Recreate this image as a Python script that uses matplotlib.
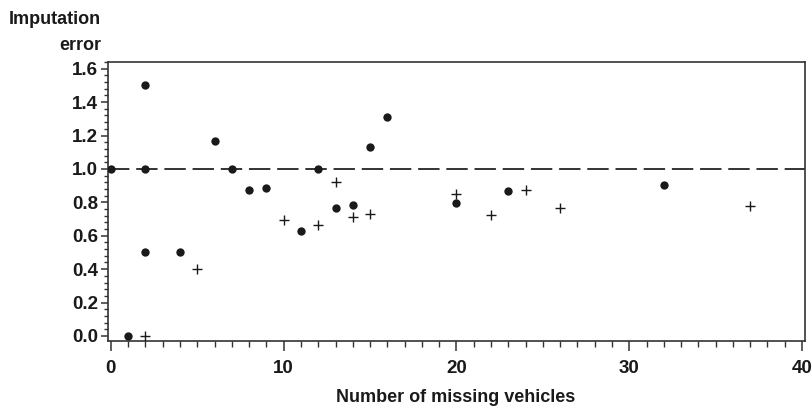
import matplotlib
matplotlib.use("Agg")
import matplotlib.pyplot as plt
from matplotlib.ticker import AutoMinorLocator

# Data
dot_x = [0, 1, 2, 2, 2, 4, 6, 7, 8, 9, 11, 12, 13, 14, 15, 16, 20, 23, 32]
dot_y = [1.0, 0.0, 1.5, 1.0, 0.5, 0.5, 1.167, 1.0, 0.875, 0.888, 0.631, 1.0,
         0.767, 0.783, 1.133, 1.312, 0.797, 0.866, 0.902]

plus_x = [2, 5, 10, 12, 13, 14, 15, 20, 22, 24, 26, 37]
plus_y = [0.0, 0.40, 0.695, 0.665, 0.92, 0.711, 0.729, 0.850, 0.727, 0.872,
          0.765, 0.781]

ref_y = 1.0
x_ticks = [0, 10, 20, 30, 40]
y_ticks = [0.0, 0.2, 0.4, 0.6, 0.8, 1.0, 1.2, 1.4, 1.6]

plt.rcParams['font.family'] = ['Liberation Sans', 'DejaVu Sans']
fig = plt.figure(figsize=(8.12, 4.12), dpi=100)
ax = fig.add_axes([108/812, 1 - 341/412, (805.5 - 108)/812, (341 - 62)/412])

ink = '#1a1a1a'
ax.axhline(ref_y, color='#333333', lw=1.4, dashes=(11, 3.5), zorder=1)
ax.scatter(dot_x, dot_y, s=36, marker='o', color=ink, linewidths=0, zorder=3)
ax.scatter(plus_x, plus_y, s=50, marker='+', color=ink, linewidths=1.0, zorder=3)

ax.set_xlim(-0.17, 40.2)
ax.set_ylim(-0.03, 1.64)
ax.set_xticks(x_ticks)
ax.set_yticks(y_ticks)
ax.set_yticklabels([f"{v:.1f}" for v in y_ticks])
ax.xaxis.set_minor_locator(AutoMinorLocator(10))
ax.yaxis.set_minor_locator(AutoMinorLocator(5))

for s in ax.spines.values():
    s.set_color('#333333')
    s.set_linewidth(1.2)

ax.tick_params(axis='both', which='major', direction='out', color='#333333',
               labelsize=13.5, width=1.1, labelcolor='#1a1a1a')
ax.tick_params(axis='x', which='major', length=7, pad=7)
ax.tick_params(axis='y', which='major', length=5, pad=2)
ax.tick_params(axis='x', which='minor', length=4, width=1.0, color='#333333')
ax.tick_params(axis='y', which='minor', length=3, width=1.0, color='#333333')
for lbl in ax.get_xticklabels() + ax.get_yticklabels():
    lbl.set_fontweight('bold')

fig.text(456/812, 1 - 397/412, "Number of missing vehicles", ha='center', va='center',
         fontsize=13, fontweight='bold', color='#1a1a1a')
fig.text(101/812, 1 - 19/412, "Imputation", ha='right', va='center',
         fontsize=13, fontweight='bold', color='#1a1a1a')
fig.text(101/812, 1 - 46/412, "error", ha='right', va='center',
         fontsize=13, fontweight='bold', color='#1a1a1a')

fig.savefig("out.png", dpi=100)
